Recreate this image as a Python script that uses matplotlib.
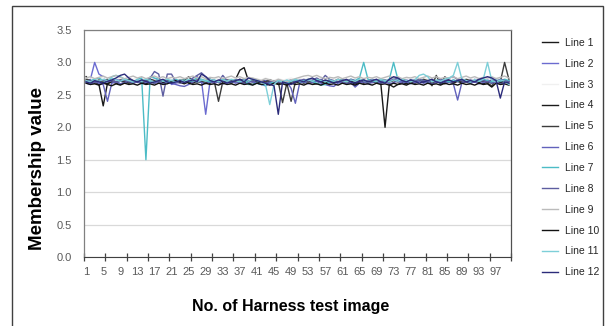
import numpy as np
import matplotlib
matplotlib.use("Agg")
import matplotlib.pyplot as plt
from matplotlib.patches import Rectangle

x = np.arange(1, 101)

line1 = [2.78, 2.72, 2.70, 2.66, 2.33, 2.68, 2.70, 2.69, 2.71, 2.70,
         2.68, 2.70, 2.72, 2.70, 2.69, 2.71, 2.70, 2.72, 2.70, 2.71,
         2.70, 2.72, 2.71, 2.73, 2.70, 2.72, 2.70, 2.71, 2.73, 2.70,
         2.72, 2.70, 2.71, 2.69, 2.72, 2.74, 2.88, 2.92, 2.72, 2.70,
         2.71, 2.70, 2.72, 2.70, 2.69, 2.71, 2.70, 2.68, 2.70, 2.71,
         2.70, 2.72, 2.70, 2.71, 2.73, 2.70, 2.72, 2.70, 2.71, 2.70,
         2.72, 2.70, 2.71, 2.69, 2.72, 2.70, 2.71, 2.70, 2.72, 2.70,
         2.71, 2.70, 2.72, 2.70, 2.71, 2.69, 2.72, 2.70, 2.71, 2.73,
         2.70, 2.72, 2.70, 2.71, 2.70, 2.72, 2.70, 2.71, 2.69, 2.72,
         2.70, 2.71, 2.70, 2.72, 2.70, 2.71, 2.70, 2.72, 2.70, 2.71]
line2 = [2.70, 2.74, 3.00, 2.82, 2.78, 2.72, 2.70, 2.74, 2.72, 2.75,
         2.73, 2.70, 2.72, 2.74, 2.71, 2.73, 2.75, 2.72, 2.70, 2.74,
         2.66, 2.68, 2.70, 2.72, 2.70, 2.74, 2.78, 2.72, 2.20, 2.70,
         2.72, 2.70, 2.74, 2.72, 2.70, 2.73, 2.71, 2.74, 2.72, 2.70,
         2.68, 2.70, 2.72, 2.69, 2.67, 2.70, 2.72, 2.68, 2.70, 2.72,
         2.74, 2.71, 2.73, 2.70, 2.72, 2.74, 2.70, 2.68, 2.72, 2.70,
         2.73, 2.71, 2.68, 2.64, 2.70, 2.73, 2.70, 2.72, 2.74, 2.71,
         2.70, 2.73, 2.75, 2.72, 2.70, 2.73, 2.71, 2.74, 2.72, 2.70,
         2.72, 2.74, 2.71, 2.73, 2.70, 2.72, 2.74, 2.70, 2.72, 2.73,
         2.71, 2.74, 2.72, 2.70, 2.73, 2.75, 2.72, 2.70, 2.74, 2.72]
line3 = [2.74, 2.76, 2.73, 2.75, 2.77, 2.74, 2.72, 2.75, 2.76, 2.73,
         2.75, 2.74, 2.76, 2.73, 2.75, 2.77, 2.74, 2.76, 2.73, 2.75,
         2.74, 2.72, 2.75, 2.76, 2.73, 2.75, 2.74, 2.76, 2.73, 2.75,
         2.77, 2.74, 2.73, 2.76, 2.74, 2.75, 2.73, 2.76, 2.74, 2.72,
         2.75, 2.73, 2.76, 2.74, 2.72, 2.75, 2.73, 2.74, 2.76, 2.73,
         2.75, 2.74, 2.76, 2.73, 2.75, 2.77, 2.74, 2.73, 2.75, 2.76,
         2.74, 2.73, 2.75, 2.77, 2.74, 2.76, 2.73, 2.75, 2.74, 2.76,
         2.73, 2.75, 2.74, 2.76, 2.73, 2.75, 2.77, 2.74, 2.73, 2.76,
         2.74, 2.75, 2.73, 2.76, 2.74, 2.72, 2.75, 2.73, 2.76, 2.74,
         2.75, 2.73, 2.76, 2.74, 2.75, 2.73, 2.76, 2.74, 2.75, 2.73]
line4 = [2.72, 2.70, 2.68, 2.71, 2.69, 2.67, 2.70, 2.68, 2.66, 2.69,
         2.70, 2.68, 2.71, 2.69, 2.67, 2.70, 2.68, 2.71, 2.69, 2.70,
         2.68, 2.71, 2.69, 2.67, 2.70, 2.68, 2.71, 2.69, 2.70, 2.68,
         2.71, 2.69, 2.67, 2.70, 2.68, 2.71, 2.69, 2.70, 2.68, 2.66,
         2.69, 2.70, 2.68, 2.71, 2.69, 2.67, 2.70, 2.68, 2.71, 2.69,
         2.70, 2.68, 2.71, 2.69, 2.67, 2.70, 2.68, 2.71, 2.69, 2.70,
         2.68, 2.71, 2.69, 2.67, 2.70, 2.68, 2.71, 2.69, 2.70, 2.68,
         2.00, 2.66, 2.62, 2.66, 2.69, 2.67, 2.70, 2.68, 2.71, 2.69,
         2.70, 2.68, 2.71, 2.69, 2.67, 2.70, 2.68, 2.71, 2.69, 2.70,
         2.68, 2.71, 2.69, 2.67, 2.70, 2.68, 2.71, 2.69, 2.70, 2.68]
line5 = [2.74, 2.72, 2.70, 2.73, 2.71, 2.74, 2.72, 2.70, 2.73, 2.71,
         2.74, 2.72, 2.70, 2.73, 2.71, 2.74, 2.72, 2.70, 2.73, 2.71,
         2.72, 2.70, 2.73, 2.72, 2.78, 2.71, 2.73, 2.70, 2.72, 2.74,
         2.71, 2.40, 2.70, 2.73, 2.72, 2.70, 2.74, 2.72, 2.70, 2.73,
         2.71, 2.72, 2.70, 2.73, 2.71, 2.70, 2.38, 2.68, 2.40, 2.70,
         2.72, 2.70, 2.73, 2.71, 2.74, 2.72, 2.70, 2.73, 2.71, 2.74,
         2.72, 2.70, 2.73, 2.71, 2.74, 2.72, 2.70, 2.73, 2.71, 2.74,
         2.72, 2.70, 2.73, 2.71, 2.74, 2.72, 2.70, 2.73, 2.71, 2.74,
         2.72, 2.64, 2.80, 2.66, 2.78, 2.72, 2.70, 2.73, 2.71, 2.74,
         2.72, 2.70, 2.73, 2.71, 2.68, 2.64, 2.72, 2.70, 3.00, 2.74]
line6 = [2.68, 2.66, 2.70, 2.68, 2.66, 2.40, 2.68, 2.70, 2.67, 2.69,
         2.71, 2.68, 2.70, 2.67, 2.69, 2.71, 2.68, 2.70, 2.67, 2.69,
         2.68, 2.66, 2.64, 2.63, 2.66, 2.70, 2.72, 2.69, 2.67, 2.70,
         2.68, 2.70, 2.67, 2.69, 2.71, 2.68, 2.70, 2.67, 2.69, 2.71,
         2.68, 2.66, 2.64, 2.67, 2.69, 2.71, 2.68, 2.70, 2.60, 2.37,
         2.68, 2.70, 2.67, 2.69, 2.71, 2.68, 2.66, 2.64, 2.63, 2.68,
         2.70, 2.67, 2.69, 2.62, 2.68, 2.70, 2.67, 2.69, 2.71, 2.68,
         2.70, 2.67, 2.69, 2.71, 2.68, 2.70, 2.67, 2.69, 2.71, 2.68,
         2.70, 2.67, 2.69, 2.71, 2.68, 2.70, 2.67, 2.42, 2.69, 2.71,
         2.68, 2.70, 2.67, 2.69, 2.71, 2.68, 2.70, 2.67, 2.69, 2.71]
line7 = [2.70, 2.72, 2.74, 2.76, 2.72, 2.70, 2.78, 2.80, 2.78, 2.74,
         2.72, 2.70, 2.74, 2.76, 1.50, 2.78, 2.76, 2.74, 2.72, 2.70,
         2.72, 2.74, 2.71, 2.73, 2.70, 2.72, 2.76, 2.74, 2.72, 2.70,
         2.73, 2.71, 2.74, 2.72, 2.70, 2.73, 2.71, 2.74, 2.66, 2.66,
         2.68, 2.66, 2.65, 2.68, 2.70, 2.72, 2.70, 2.68, 2.71, 2.73,
         2.70, 2.72, 2.74, 2.71, 2.68, 2.65, 2.66, 2.70, 2.72, 2.70,
         2.73, 2.71, 2.74, 2.72, 2.76, 3.00, 2.74, 2.72, 2.70, 2.73,
         2.71, 2.74, 3.00, 2.74, 2.72, 2.70, 2.73, 2.71, 2.74, 2.72,
         2.70, 2.73, 2.71, 2.74, 2.72, 2.70, 2.73, 2.71, 2.74, 2.72,
         2.70, 2.73, 2.71, 2.74, 2.72, 2.70, 2.73, 2.71, 2.74, 2.72]
line8 = [2.70, 2.72, 2.69, 2.71, 2.73, 2.70, 2.72, 2.69, 2.71, 2.73,
         2.70, 2.72, 2.69, 2.71, 2.73, 2.76, 2.86, 2.82, 2.48, 2.82,
         2.82, 2.70, 2.68, 2.70, 2.72, 2.76, 2.80, 2.84, 2.78, 2.74,
         2.72, 2.70, 2.80, 2.72, 2.70, 2.73, 2.71, 2.74, 2.72, 2.70,
         2.73, 2.71, 2.68, 2.70, 2.72, 2.70, 2.68, 2.71, 2.73, 2.70,
         2.72, 2.74, 2.71, 2.73, 2.76, 2.72, 2.80, 2.74, 2.72, 2.70,
         2.73, 2.71, 2.74, 2.72, 2.70, 2.73, 2.71, 2.74, 2.72, 2.70,
         2.73, 2.71, 2.74, 2.76, 2.72, 2.70, 2.73, 2.71, 2.74, 2.72,
         2.70, 2.73, 2.71, 2.74, 2.72, 2.76, 2.78, 2.74, 2.72, 2.70,
         2.73, 2.71, 2.74, 2.72, 2.70, 2.73, 2.71, 2.74, 2.72, 2.70]
line9 = [2.76, 2.78, 2.75, 2.77, 2.79, 2.76, 2.78, 2.80, 2.77, 2.75,
         2.77, 2.79, 2.76, 2.78, 2.75, 2.77, 2.79, 2.76, 2.78, 2.75,
         2.77, 2.76, 2.78, 2.75, 2.77, 2.79, 2.76, 2.78, 2.75, 2.77,
         2.76, 2.78, 2.75, 2.77, 2.79, 2.76, 2.78, 2.75, 2.77, 2.76,
         2.74, 2.72, 2.75, 2.73, 2.71, 2.74, 2.72, 2.70, 2.73, 2.75,
         2.77, 2.79, 2.80, 2.78, 2.80, 2.77, 2.75, 2.77, 2.76, 2.78,
         2.75, 2.77, 2.79, 2.76, 2.78, 2.75, 2.77, 2.76, 2.78, 2.75,
         2.77, 2.79, 2.76, 2.78, 2.75, 2.77, 2.76, 2.78, 2.75, 2.77,
         2.79, 2.76, 2.78, 2.75, 2.77, 2.76, 2.78, 2.75, 2.77, 2.79,
         2.76, 2.78, 2.75, 2.77, 2.76, 2.78, 2.75, 2.77, 2.79, 2.76]
line10 = [2.68, 2.66, 2.67, 2.65, 2.68, 2.66, 2.64, 2.67, 2.65, 2.68,
          2.66, 2.67, 2.65, 2.68, 2.66, 2.67, 2.65, 2.68, 2.66, 2.67,
          2.70, 2.72, 2.70, 2.72, 2.68, 2.66, 2.67, 2.65, 2.68, 2.66,
          2.67, 2.65, 2.68, 2.66, 2.67, 2.65, 2.68, 2.66, 2.67, 2.65,
          2.68, 2.66, 2.67, 2.65, 2.68, 2.66, 2.67, 2.65, 2.68, 2.66,
          2.67, 2.65, 2.68, 2.66, 2.67, 2.65, 2.68, 2.66, 2.67, 2.65,
          2.68, 2.66, 2.67, 2.65, 2.68, 2.66, 2.67, 2.65, 2.68, 2.66,
          2.67, 2.65, 2.68, 2.66, 2.67, 2.65, 2.68, 2.66, 2.67, 2.65,
          2.68, 2.66, 2.67, 2.65, 2.68, 2.66, 2.67, 2.65, 2.68, 2.66,
          2.67, 2.65, 2.68, 2.66, 2.67, 2.62, 2.68, 2.66, 2.67, 2.65]
line11 = [2.72, 2.70, 2.73, 2.71, 2.74, 2.72, 2.76, 2.73, 2.71, 2.74,
          2.72, 2.70, 2.73, 2.71, 2.74, 2.72, 2.70, 2.73, 2.71, 2.74,
          2.72, 2.70, 2.73, 2.71, 2.74, 2.72, 2.70, 2.73, 2.71, 2.74,
          2.72, 2.70, 2.73, 2.71, 2.74, 2.72, 2.70, 2.73, 2.71, 2.74,
          2.72, 2.70, 2.66, 2.35, 2.66, 2.72, 2.70, 2.73, 2.71, 2.74,
          2.72, 2.70, 2.73, 2.71, 2.74, 2.72, 2.70, 2.73, 2.71, 2.74,
          2.72, 2.70, 2.73, 2.71, 2.74, 2.72, 2.70, 2.73, 2.71, 2.74,
          2.72, 2.70, 2.73, 2.71, 2.74, 2.72, 2.70, 2.73, 2.80, 2.82,
          2.78, 2.70, 2.73, 2.71, 2.74, 2.76, 2.80, 3.00, 2.74, 2.72,
          2.70, 2.73, 2.71, 2.74, 3.00, 2.72, 2.70, 2.73, 2.71, 2.66]
line12 = [2.70, 2.68, 2.72, 2.70, 2.68, 2.71, 2.73, 2.76, 2.80, 2.82,
          2.76, 2.72, 2.70, 2.73, 2.71, 2.68, 2.70, 2.72, 2.74, 2.70,
          2.68, 2.70, 2.72, 2.69, 2.71, 2.73, 2.70, 2.82, 2.78, 2.72,
          2.70, 2.73, 2.71, 2.68, 2.70, 2.72, 2.74, 2.70, 2.76, 2.74,
          2.72, 2.70, 2.68, 2.66, 2.64, 2.20, 2.70, 2.68, 2.66, 2.70,
          2.72, 2.70, 2.74, 2.76, 2.72, 2.70, 2.73, 2.71, 2.68, 2.70,
          2.72, 2.74, 2.70, 2.68, 2.71, 2.73, 2.70, 2.72, 2.74, 2.70,
          2.68, 2.74, 2.78, 2.76, 2.72, 2.70, 2.73, 2.71, 2.68, 2.70,
          2.72, 2.74, 2.70, 2.68, 2.71, 2.73, 2.70, 2.72, 2.74, 2.70,
          2.72, 2.70, 2.74, 2.76, 2.78, 2.76, 2.72, 2.45, 2.70, 2.68]

series = [line1, line2, line3, line4, line5, line6,
          line7, line8, line9, line10, line11, line12]
names = ["Line %d" % i for i in range(1, 13)]
colors = ["#1a1a1a", "#6b6bd0", "#f0f0f0", "#1a1a1a", "#3c3c3c", "#6262bc",
          "#4cbcc6", "#5d5da0", "#bbbbbb", "#111111", "#7dcfd8", "#2b2b7a"]

xtick_labels = [1 + 4 * k for k in range(25)]

narrow = ["Liberation Sans Narrow", "Liberation Sans", "DejaVu Sans"]
bold_font = ["Liberation Sans", "DejaVu Sans"]

fig = plt.figure(figsize=(6.05, 3.26), dpi=100)
ax = fig.add_axes([84 / 605, 69 / 326, 427 / 605, 227 / 326])

for ys, c, n in zip(series, colors, names):
    ax.plot(x, ys, color=c, lw=1.0, label=n)

ax.set_xlim(0.5, 100.5)
ax.set_ylim(0, 3.5)
ax.set_yticks(np.arange(0, 3.51, 0.5))
ax.set_yticklabels(["%.1f" % v for v in np.arange(0, 3.51, 0.5)],
                   family=narrow, fontsize=8, color="#595959")
ax.grid(axis="y", color="#d9d9d9", lw=0.9)
ax.set_axisbelow(True)
ax.tick_params(axis="y", length=0, pad=9)

ax.set_xticks(xtick_labels)
ax.set_xticklabels([str(v) for v in xtick_labels], family=narrow,
                   fontsize=8, color="#595959")
ax.set_xticks(np.arange(0.5, 101, 5), minor=True)
ax.tick_params(axis="x", which="major", length=0, pad=7)
ax.tick_params(axis="x", which="minor", length=6, direction="inout",
               color="#404040", width=0.9)

for s in ["left", "top", "right"]:
    ax.spines[s].set_color("#808080")
    ax.spines[s].set_linewidth(0.9)
ax.spines["bottom"].set_color("#404040")
ax.spines["right"].set_color("#505050")

ax.set_ylabel("Membership value", family=bold_font, fontweight="bold",
              fontsize=13.5)
ax.yaxis.set_label_coords(-0.09, 0.388)
ax.set_xlabel("No. of Harness test image", family=bold_font,
              fontweight="bold", fontsize=11.5)
ax.xaxis.set_label_coords(0.484, -0.185)

leg = fig.legend(loc="upper left", bbox_to_anchor=(542 / 605, 1 - 38 / 326),
                 frameon=False, prop={"family": narrow, "size": 7.5},
                 handlelength=1.5, handletextpad=0.7, labelspacing=1.04,
                 borderpad=0, borderaxespad=0)
for t in leg.get_texts():
    t.set_color("#262626")

fig.patches.append(Rectangle((12 / 605, -0.05), 591 / 605, 1.05 - 6 / 326,
                             transform=fig.transFigure, fill=False,
                             edgecolor="#404040", lw=1.0))

fig.savefig("out.png", dpi=100)
